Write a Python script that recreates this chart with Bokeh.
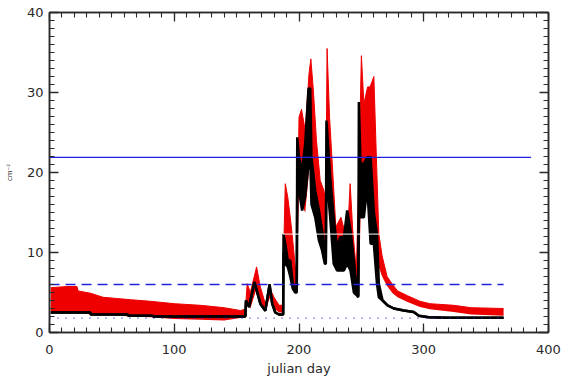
from bokeh.plotting import figure
from bokeh.models import Range1d, LinearAxis, SingleIntervalTicker
from bokeh.embed import file_html
from bokeh.resources import INLINE

# ---------------- data ----------------
red_day = [1, 14, 22, 23, 33, 43, 65, 81, 100, 121, 140, 153, 157, 158.5, 161, 166, 169, 173, 177, 180,
           184, 187.2, 188, 189, 191, 193, 195, 197, 198.3, 200, 202, 205, 208, 209.5, 211.5, 214, 217, 220,
           221.5, 222.5, 224.5, 227, 229.5, 233.6, 236, 239, 241, 243, 246, 248, 250, 252, 255, 257, 260,
           262, 264, 266.6, 270.6, 275, 279, 287, 297, 305, 324, 338, 364]
red_hi = [5.6, 5.75, 5.75, 5.2, 4.9, 4.4, 4.1, 3.9, 3.6, 3.4, 3.1, 2.75, 2.9, 6.1, 5.0, 8.2, 5.7, 3.6, 5.4, 4.4,
          3.4, 3.4, 12.0, 18.6, 16.9, 14.4, 11.5, 8.2, 8.0, 26.9, 27.9, 25.25, 32.3, 34.2, 30.3, 24.0, 19.0, 17.75,
          16.0, 35.5, 26.9, 20.25, 13.2, 14.4, 13.0, 12.3, 18.6, 13.0, 7.75, 20.0, 34.6, 28.6, 30.7, 30.7, 32.0,
          22.0, 12.3, 9.6, 7.0, 6.0, 5.2, 4.6, 3.9, 3.6, 3.4, 3.1, 3.0]
red_lo = [2.5, 2.5, 2.5, 2.5, 2.25, 2.25, 2.0, 1.9, 1.7, 1.6, 1.5, 1.8, 2.0, 3.5, 3.0, 5.5, 3.8, 2.7, 4.5, 3.0,
          2.5, 2.5, 9.0, 10.5, 8.5, 8.0, 6.0, 5.5, 5.5, 18.0, 16.0, 15.0, 20.0, 25.0, 20.0, 15.0, 13.0, 11.0,
          9.0, 20.0, 18.0, 13.0, 8.0, 9.0, 8.0, 9.0, 12.0, 8.0, 5.0, 5.0, 19.0, 18.0, 18.0, 15.0, 14.0,
          10.5, 8.2, 7.0, 5.8, 4.9, 4.4, 3.8, 3.2, 2.9, 2.55, 2.25, 2.1]

blk_day = [1, 32.9, 33, 62.9, 63, 82.9, 83, 157, 157.5, 160, 164.3, 169, 173, 176.4, 178.5, 181, 184, 187.3,
           187.6, 189, 191, 193, 195, 197, 198.2, 198.6, 200, 202.5, 205, 207.6, 209, 210, 213, 216, 218.5,
           220.7, 221.5, 222, 225, 227.8, 230.5, 233, 236, 238.6, 241.3, 244, 246.6, 247.5, 248, 249.3, 252,
           254.7, 257.4, 260, 262.5, 264, 267, 271, 276, 284, 292, 296, 304, 319, 364]
blk_hi = [2.5, 2.5, 2.25, 2.25, 2.1, 2.1, 2.0, 2.0, 4.0, 3.2, 6.3, 3.6, 2.7, 6.0, 3.6, 2.5, 2.25, 2.25,
          12.3, 11.1, 9.0, 9.0, 6.1, 5.3, 5.3, 24.4, 21.9, 20.25, 23.6, 30.5, 30.5, 21.9, 17.75, 15.25, 12.75,
          10.25, 9.0, 26.5, 19.4, 14.4, 10.6, 11.9, 11.9, 15.25, 12.75, 9.0, 5.0, 4.6, 28.8, 21.1, 21.1,
          21.9, 21.9, 15.0, 12.3, 6.1, 4.0, 3.4, 3.0, 2.75, 2.55, 2.1, 1.9, 1.83, 1.83]
blk_lo = [2.5, 2.5, 2.25, 2.25, 2.1, 2.1, 2.0, 2.0, 4.0, 3.2, 6.3, 3.6, 2.7, 6.0, 3.6, 2.5, 2.25, 2.25,
          10.0, 8.6, 8.2, 7.0, 5.5, 5.0, 5.0, 18.0, 17.75, 15.25, 17.0, 21.1, 22.0, 16.0, 14.4, 11.5, 10.25,
          8.6, 8.6, 20.0, 14.4, 8.6, 7.75, 7.75, 7.75, 8.6, 7.75, 5.0, 4.6, 4.4, 14.4, 14.4, 14.4,
          18.2, 11.1, 11.1, 6.1, 4.4, 4.0, 3.4, 3.0, 2.75, 2.55, 2.1, 1.9, 1.83, 1.83]

# reference levels: (value, start day, end day)
level_solid = (21.9, 0, 386)
level_dash = (6.0, 0, 364)
level_dot = (1.8, 0, 364)
level_white = (12.3, 187, 282)

x_ticks_interval = 100
y_ticks_interval = 10
x_major_values = [0, 100, 200, 300, 400]
y_major_values = [0, 10, 20, 30, 40]

# ---------------- figure ----------------
FONT = "DejaVu Sans"
TXT = "#2a2a2a"

p = figure(width=561, height=382, x_range=Range1d(0, 400), y_range=Range1d(0, 40),
           output_backend="svg", toolbar_location=None, x_axis_location=None, y_axis_location=None,
           min_border_left=49, min_border_right=13, min_border_top=12, min_border_bottom=50)
p.grid.visible = False
p.background_fill_color = "white"
p.border_fill_color = "white"
p.outline_line_color = TXT
p.outline_line_width = 1.5

p.varea(x=red_day, y1=red_lo, y2=red_hi, fill_color="#ee0000")
p.line(red_day, red_hi, line_color="#ee0000", line_width=1)
p.varea(x=blk_day, y1=blk_lo, y2=blk_hi, fill_color="black")
p.line(blk_day, blk_hi, line_color="black", line_width=2.5)
p.line(blk_day, blk_lo, line_color="black", line_width=2.5)

v, a, b = level_white
p.segment(x0=[a], y0=[v], x1=[b], y1=[v], line_color="white", line_width=1)
v, a, b = level_solid
p.segment(x0=[a], y0=[v], x1=[b], y1=[v], line_color="#2020e0", line_width=1.3)
v, a, b = level_dash
p.segment(x0=[a], y0=[v], x1=[b], y1=[v], line_color="#2020e0", line_width=1.5, line_dash="10 6")
v, a, b = level_dot
p.segment(x0=[a], y0=[v], x1=[b], y1=[v], line_color="#2020e0", line_width=1.3, line_dash="1 7")

# axes
xt = SingleIntervalTicker(interval=x_ticks_interval, num_minor_ticks=10)
yt = SingleIntervalTicker(interval=y_ticks_interval, num_minor_ticks=10)

bottom = LinearAxis(ticker=xt, axis_label="julian day")
left = LinearAxis(ticker=yt, axis_label="cm\u207b\u00b2")
top = LinearAxis(ticker=xt)
right = LinearAxis(ticker=yt)
p.add_layout(bottom, "below")
p.add_layout(left, "left")
p.add_layout(top, "above")
p.add_layout(right, "right")

for ax in [bottom, left, top, right]:
    ax.axis_line_color = TXT
    ax.axis_line_width = 1.5
    ax.major_tick_line_color = TXT
    ax.minor_tick_line_color = TXT
    ax.major_tick_line_width = 1.3
    ax.minor_tick_line_width = 1.1
    ax.major_tick_in = 9
    ax.major_tick_out = 0
    ax.minor_tick_in = 5
    ax.minor_tick_out = 0
    ax.major_label_text_font = FONT
    ax.major_label_text_font_size = "13px"
    ax.major_label_text_color = TXT

top.major_label_overrides = {t: "" for t in x_major_values}
right.major_label_overrides = {t: "" for t in y_major_values}
top.major_label_standoff = 0
right.major_label_standoff = 0

bottom.major_label_standoff = 12
left.major_label_standoff = 6
bottom.axis_label_text_font = FONT
bottom.axis_label_text_font_size = "13px"
bottom.axis_label_text_font_style = "normal"
bottom.axis_label_text_color = TXT
bottom.axis_label_standoff = 4
left.axis_label_text_font = FONT
left.axis_label_text_font_size = "7px"
left.axis_label_text_font_style = "normal"
left.axis_label_text_color = TXT
left.axis_label_standoff = 10

open("out.html", "w").write(file_html(p, INLINE))
